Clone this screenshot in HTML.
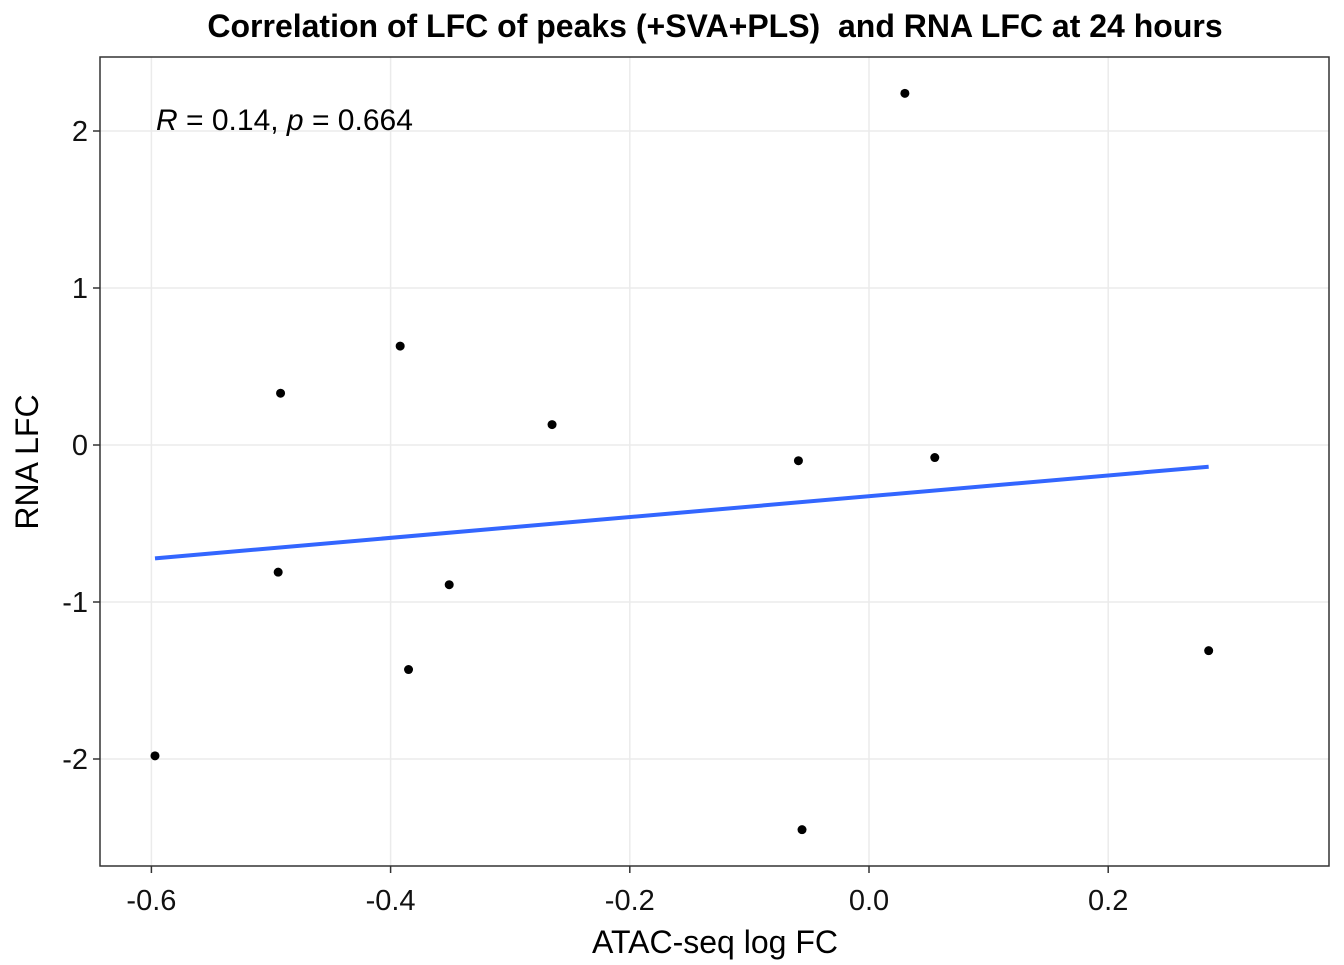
<!DOCTYPE html>
<html><head><meta charset="utf-8"><style>
body{margin:0;background:#fff;font-family:"Liberation Sans",Arial,sans-serif}
svg text{font-family:"Liberation Sans",Arial,sans-serif}
</style></head><body>
<svg id="chart" width="1344" height="960" xmlns="http://www.w3.org/2000/svg">
<rect width="1344" height="960" fill="#fff"/>
<text x="715" y="37" text-anchor="middle" font-size="32" font-weight="bold">Correlation of LFC of peaks (+SVA+PLS)&#160; and RNA LFC at 24 hours</text>
<g id="grid"></g>
<g id="marks"></g>
<rect x="100" y="57" width="1229" height="809" fill="none" stroke="#333" stroke-width="1.5"/>
<g id="axes"></g>
<text x="156" y="130" font-size="30"><tspan font-style="italic">R</tspan> = 0.14, <tspan font-style="italic">p</tspan> = 0.664</text>
<text x="715" y="953" text-anchor="middle" font-size="32">ATAC-seq log FC</text>
<text transform="translate(38,462) rotate(-90)" text-anchor="middle" font-size="32">RNA LFC</text>
</svg>
<script>
const xVals=[-0.597,-0.492,-0.494,-0.392,-0.385,-0.351,-0.265,-0.059,-0.056,0.030,0.055,0.284];
const yVals=[-1.98,0.33,-0.81,0.63,-1.43,-0.89,0.13,-0.10,-2.45,2.24,-0.08,-1.31];
const xTicks=[-0.6,-0.4,-0.2,0.0,0.2];
const xTickLabels=["-0.6","-0.4","-0.2","0.0","0.2"];
const yTicks=[-2,-1,0,1,2];
const yTickLabels=["-2","-1","0","1","2"];
const NS="http://www.w3.org/2000/svg";
const X=v=>869+v*1196, Y=v=>445-v*157;
function mk(t,a,p){const e=document.createElementNS(NS,t);for(const k in a)e.setAttribute(k,a[k]);p.appendChild(e);return e;}
const grid=document.getElementById('grid'),marks=document.getElementById('marks'),axes=document.getElementById('axes');
mk('rect',{x:100,y:57,width:1229,height:809,fill:'#fff'},grid);
for(let i=0;i<xTicks.length;i++){
 const xm=X(xTicks[i]);
 const l=mk('line',{x1:xm,x2:xm,y1:57,y2:866,stroke:'#ebebeb','stroke-width':1.5},grid);
 
 
 mk('line',{x1:xm,x2:xm,y1:866,y2:873,stroke:'#333','stroke-width':1.5},axes);
 const t=mk('text',{x:xm,y:910,'text-anchor':'middle','font-size':29,fill:'#111'},axes);
 t.textContent=xTickLabels[i];
 
 
}
for(let i=0;i<yTicks.length;i++){
 const ym=Y(yTicks[i]);
 const l=mk('line',{x1:100,x2:1329,y1:ym,y2:ym,stroke:'#ebebeb','stroke-width':1.5},grid);
 
 
 mk('line',{x1:93,x2:100,y1:ym,y2:ym,stroke:'#333','stroke-width':1.5},axes);
 const t=mk('text',{x:88,y:ym+10,'text-anchor':'end','font-size':29,fill:'#111'},axes);
 t.textContent=yTickLabels[i];
 
 
}
const n=xVals.length,mx=xVals.reduce((a,b)=>a+b)/n,my=yVals.reduce((a,b)=>a+b)/n;
let sxy=0,sxx=0;for(let i=0;i<n;i++){sxy+=(xVals[i]-mx)*(yVals[i]-my);sxx+=(xVals[i]-mx)**2;}
const b=sxy/sxx,a=my-b*mx,x0=Math.min(...xVals),x1=Math.max(...xVals);
const rl=mk('line',{x1:X(x0),y1:Y(a+b*x0),x2:X(x1),y2:Y(a+b*x1),stroke:'#3366ff','stroke-width':4},marks);


for(let i=0;i<n;i++){
 const c=mk('circle',{cx:X(xVals[i]),cy:Y(yVals[i]),r:4.5,fill:'#000'},marks);
 
 
}
</script>
</body></html>
